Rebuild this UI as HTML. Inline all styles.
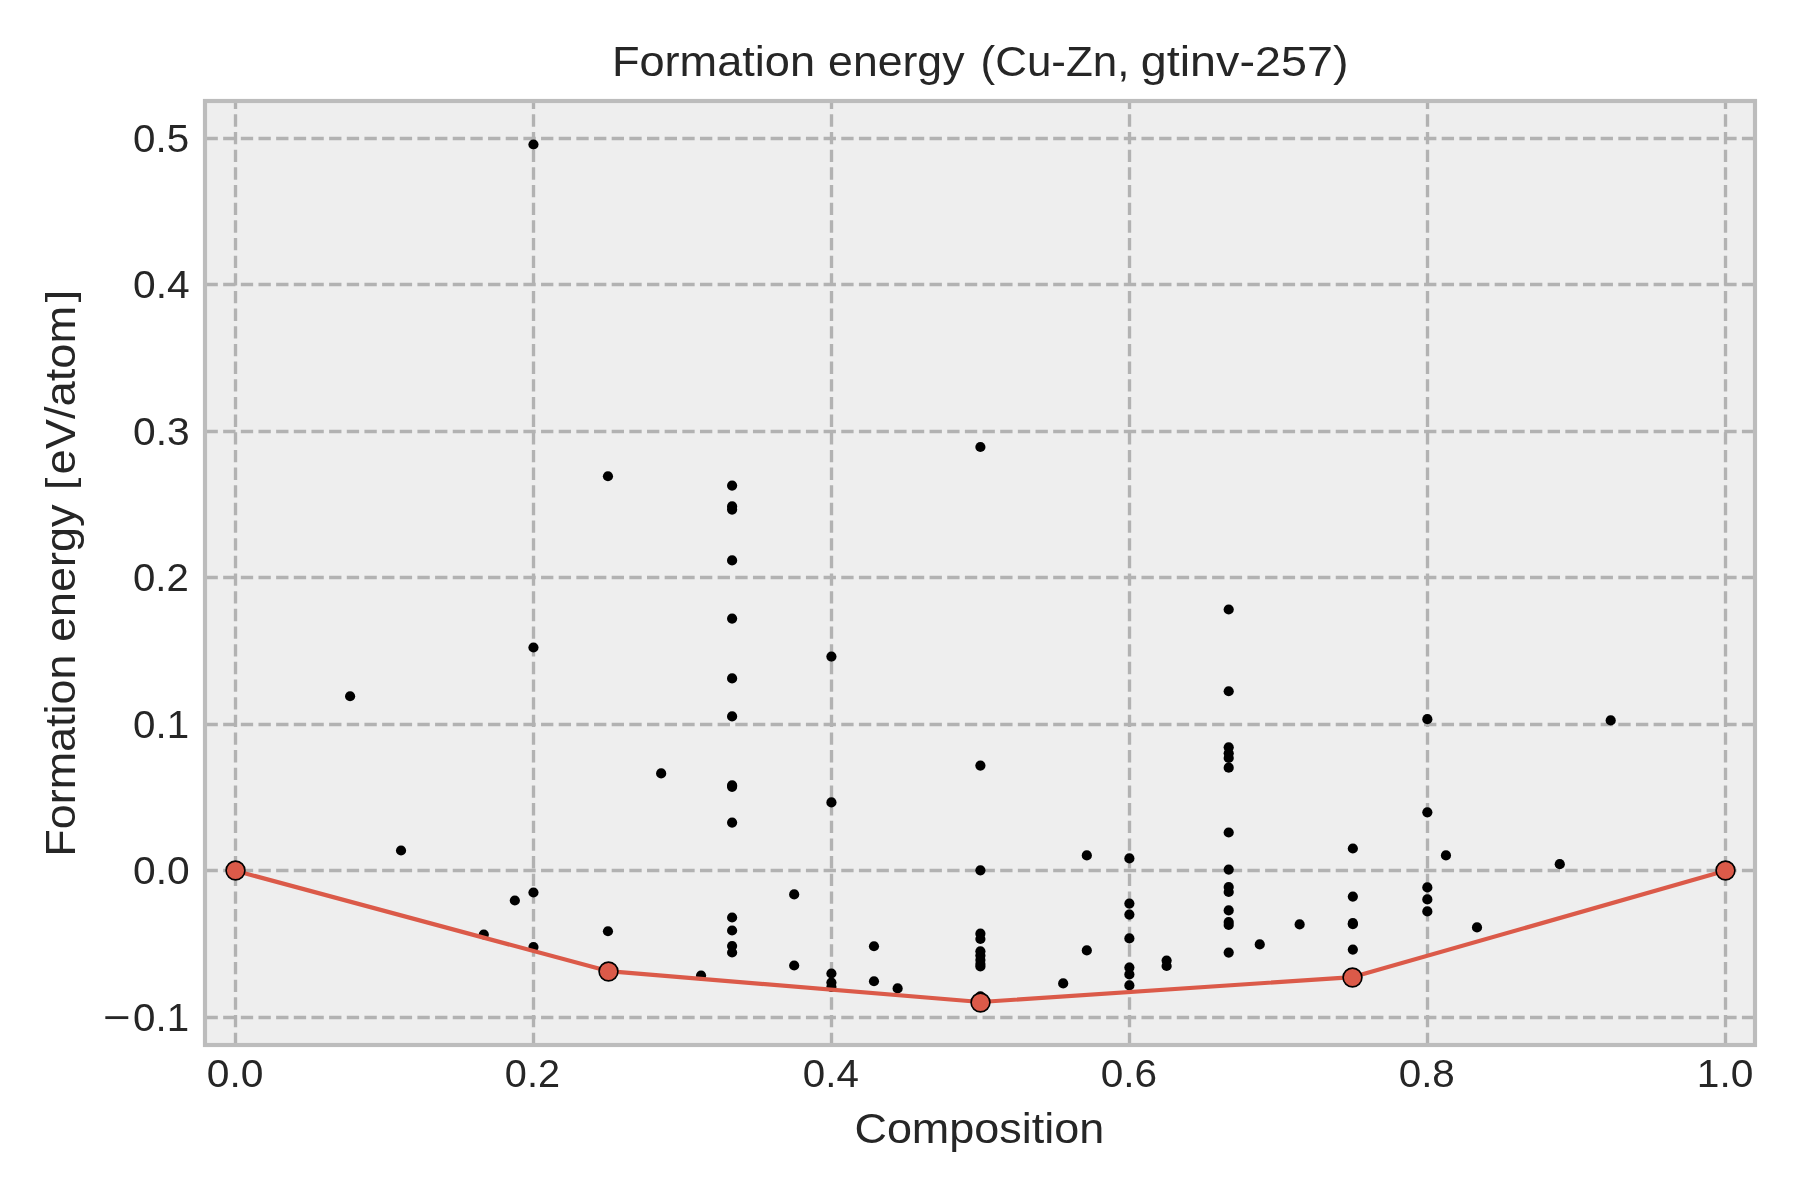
<!DOCTYPE html>
<html><head><meta charset="utf-8"><title>Formation energy (Cu-Zn, gtinv-257)</title>
<style>html,body{margin:0;padding:0;background:#fff;}svg{display:block;will-change:transform;}text{font-family:"Liberation Sans",sans-serif;fill:#262626;font-kerning:none;}</style>
</head><body>
<svg width="1800" height="1200" viewBox="0 0 1800 1200">
<rect x="0" y="0" width="1800" height="1200" fill="#ffffff"/>
<rect x="205" y="101" width="1550" height="944" fill="#eeeeee"/>
<g stroke="#b2b2b2" stroke-width="3.33" stroke-dasharray="12.33 5.33" fill="none">
<path d="M235.50 1045.00V101.00"/>
<path d="M533.50 1045.00V101.00"/>
<path d="M831.50 1045.00V101.00"/>
<path d="M1129.50 1045.00V101.00"/>
<path d="M1427.50 1045.00V101.00"/>
<path d="M1725.50 1045.00V101.00"/>
<path d="M205.50 1017.50H1755.00"/>
<path d="M205.50 870.50H1755.00"/>
<path d="M205.50 724.50H1755.00"/>
<path d="M205.50 577.50H1755.00"/>
<path d="M205.50 431.50H1755.00"/>
<path d="M205.50 284.50H1755.00"/>
<path d="M205.50 138.50H1755.00"/>
</g>
<g fill="#000000">
<circle cx="350.10" cy="696.25" r="5.1"/>
<circle cx="401.03" cy="850.50" r="5.1"/>
<circle cx="483.80" cy="934.50" r="5.1"/>
<circle cx="514.84" cy="900.50" r="5.1"/>
<circle cx="533.46" cy="144.50" r="5.1"/>
<circle cx="533.46" cy="647.50" r="5.1"/>
<circle cx="533.46" cy="892.50" r="5.1"/>
<circle cx="533.46" cy="947.00" r="5.1"/>
<circle cx="607.95" cy="476.25" r="5.1"/>
<circle cx="607.95" cy="931.25" r="5.1"/>
<circle cx="607.95" cy="971.50" r="5.1"/>
<circle cx="661.16" cy="773.40" r="5.1"/>
<circle cx="701.06" cy="975.50" r="5.1"/>
<circle cx="732.10" cy="485.60" r="5.1"/>
<circle cx="732.10" cy="506.40" r="5.1"/>
<circle cx="732.10" cy="509.60" r="5.1"/>
<circle cx="732.10" cy="560.40" r="5.1"/>
<circle cx="732.10" cy="618.60" r="5.1"/>
<circle cx="732.10" cy="678.40" r="5.1"/>
<circle cx="732.10" cy="716.40" r="5.1"/>
<circle cx="732.10" cy="785.40" r="5.1"/>
<circle cx="732.10" cy="786.80" r="5.1"/>
<circle cx="732.10" cy="822.60" r="5.1"/>
<circle cx="732.10" cy="917.50" r="5.1"/>
<circle cx="732.10" cy="930.50" r="5.1"/>
<circle cx="732.10" cy="946.00" r="5.1"/>
<circle cx="732.10" cy="952.50" r="5.1"/>
<circle cx="794.17" cy="894.40" r="5.1"/>
<circle cx="794.17" cy="965.50" r="5.1"/>
<circle cx="831.42" cy="656.60" r="5.1"/>
<circle cx="831.42" cy="802.40" r="5.1"/>
<circle cx="831.42" cy="973.50" r="5.1"/>
<circle cx="831.42" cy="982.50" r="5.1"/>
<circle cx="831.42" cy="987.00" r="5.1"/>
<circle cx="873.99" cy="946.25" r="5.1"/>
<circle cx="873.99" cy="981.25" r="5.1"/>
<circle cx="897.63" cy="988.40" r="5.1"/>
<circle cx="980.40" cy="447.00" r="5.1"/>
<circle cx="980.40" cy="765.60" r="5.1"/>
<circle cx="980.40" cy="870.30" r="5.1"/>
<circle cx="980.40" cy="933.70" r="5.1"/>
<circle cx="980.40" cy="939.00" r="5.1"/>
<circle cx="980.40" cy="951.30" r="5.1"/>
<circle cx="980.40" cy="955.50" r="5.1"/>
<circle cx="980.40" cy="960.00" r="5.1"/>
<circle cx="980.40" cy="964.00" r="5.1"/>
<circle cx="980.40" cy="966.50" r="5.1"/>
<circle cx="980.40" cy="996.30" r="5.1"/>
<circle cx="1063.17" cy="983.40" r="5.1"/>
<circle cx="1086.81" cy="855.40" r="5.1"/>
<circle cx="1086.81" cy="950.40" r="5.1"/>
<circle cx="1129.38" cy="858.40" r="5.1"/>
<circle cx="1129.38" cy="903.60" r="5.1"/>
<circle cx="1129.38" cy="914.60" r="5.1"/>
<circle cx="1129.38" cy="938.40" r="5.1"/>
<circle cx="1129.38" cy="967.60" r="5.1"/>
<circle cx="1129.38" cy="974.40" r="5.1"/>
<circle cx="1129.38" cy="985.40" r="5.1"/>
<circle cx="1166.62" cy="960.60" r="5.1"/>
<circle cx="1166.62" cy="966.00" r="5.1"/>
<circle cx="1228.70" cy="609.50" r="5.1"/>
<circle cx="1228.70" cy="691.25" r="5.1"/>
<circle cx="1228.70" cy="747.30" r="5.1"/>
<circle cx="1228.70" cy="753.30" r="5.1"/>
<circle cx="1228.70" cy="758.00" r="5.1"/>
<circle cx="1228.70" cy="767.70" r="5.1"/>
<circle cx="1228.70" cy="832.50" r="5.1"/>
<circle cx="1228.70" cy="869.60" r="5.1"/>
<circle cx="1228.70" cy="887.00" r="5.1"/>
<circle cx="1228.70" cy="892.00" r="5.1"/>
<circle cx="1228.70" cy="910.40" r="5.1"/>
<circle cx="1228.70" cy="922.00" r="5.1"/>
<circle cx="1228.70" cy="925.00" r="5.1"/>
<circle cx="1228.70" cy="952.60" r="5.1"/>
<circle cx="1259.74" cy="944.40" r="5.1"/>
<circle cx="1299.64" cy="924.40" r="5.1"/>
<circle cx="1352.85" cy="848.50" r="5.1"/>
<circle cx="1352.85" cy="896.60" r="5.1"/>
<circle cx="1352.85" cy="923.20" r="5.1"/>
<circle cx="1352.85" cy="924.20" r="5.1"/>
<circle cx="1352.85" cy="949.60" r="5.1"/>
<circle cx="1427.34" cy="719.20" r="5.1"/>
<circle cx="1427.34" cy="812.30" r="5.1"/>
<circle cx="1427.34" cy="887.40" r="5.1"/>
<circle cx="1427.34" cy="899.40" r="5.1"/>
<circle cx="1427.34" cy="911.40" r="5.1"/>
<circle cx="1445.96" cy="855.40" r="5.1"/>
<circle cx="1477.00" cy="927.40" r="5.1"/>
<circle cx="1559.77" cy="864.20" r="5.1"/>
<circle cx="1610.70" cy="720.40" r="5.1"/>
</g>
<path d="M235.50 870.80 L607.95 971.10 L980.40 1002.00 L1352.85 977.10 L1725.30 870.80" fill="none" stroke="#db5a49" stroke-width="4.17" stroke-linejoin="round" stroke-linecap="butt"/>
<g fill="#db5a49" stroke="#000000" stroke-width="1.65">
<circle cx="235.50" cy="870.50" r="9.4"/>
<circle cx="608.50" cy="971.50" r="9.4"/>
<circle cx="980.50" cy="1002.50" r="9.4"/>
<circle cx="1352.50" cy="977.50" r="9.4"/>
<circle cx="1725.50" cy="870.50" r="9.4"/>
</g>
<rect x="205" y="101" width="1550" height="944" fill="none" stroke="#bcbcbc" stroke-width="4.17"/>
<text transform="translate(611.90 76.20) scale(1.0451 1)" font-size="43.2">Formation</text>
<text transform="translate(828.11 76.20) scale(1.0325 1)" font-size="43.2">energy</text>
<text transform="translate(980.57 76.20) scale(1.0175 1)" font-size="43.2">(Cu-Zn,</text>
<text transform="translate(1140.74 76.20) scale(1.0815 1)" font-size="43.2">gtinv-257)</text>
<text transform="translate(854.42 1143.00) scale(1.0404 1)" font-size="43.2">Composition</text>
<g transform="translate(74.8 853.0) rotate(-90)">
<text transform="translate(-3.68 0.00) scale(1.0393 1)" font-size="43.2">Formation</text>
<text transform="translate(211.09 0.00) scale(1.0410 1)" font-size="43.2">energy</text>
<text transform="translate(378.58 0.00) scale(1.0483 1)" font-size="43.2">eV/atom</text>
<text transform="translate(363.04 -2.30) scale(1.0250 0.894)" font-size="43.2">[</text>
<text transform="translate(550.75 -2.30) scale(1.0250 0.894)" font-size="43.2">]</text>
</g>
<text transform="translate(206.87 1087.20) scale(1.0291 1)" font-size="39.6">0.0</text>
<text transform="translate(504.87 1087.20) scale(1.0023 1)" font-size="39.6">0.2</text>
<text transform="translate(802.81 1087.20) scale(1.0172 1)" font-size="39.6">0.4</text>
<text transform="translate(1100.75 1087.20) scale(1.0237 1)" font-size="39.6">0.6</text>
<text transform="translate(1398.72 1087.20) scale(1.0195 1)" font-size="39.6">0.8</text>
<text transform="translate(1696.77 1087.20) scale(1.0271 1)" font-size="39.6">1.0</text>
<text transform="translate(103.01 1030.75) scale(1.1931 1)" font-size="39.6">−</text>
<text transform="translate(133.02 1030.75) scale(1.0184 1)" font-size="39.6">0.1</text>
<text transform="translate(133.01 884.25) scale(1.0291 1)" font-size="39.6">0.0</text>
<text transform="translate(133.02 737.75) scale(1.0184 1)" font-size="39.6">0.1</text>
<text transform="translate(133.03 591.25) scale(1.0140 1)" font-size="39.6">0.2</text>
<text transform="translate(133.01 444.75) scale(1.0294 1)" font-size="39.6">0.3</text>
<text transform="translate(133.01 298.25) scale(1.0286 1)" font-size="39.6">0.4</text>
<text transform="translate(133.02 151.75) scale(1.0186 1)" font-size="39.6">0.5</text>
</svg>
</body></html>
